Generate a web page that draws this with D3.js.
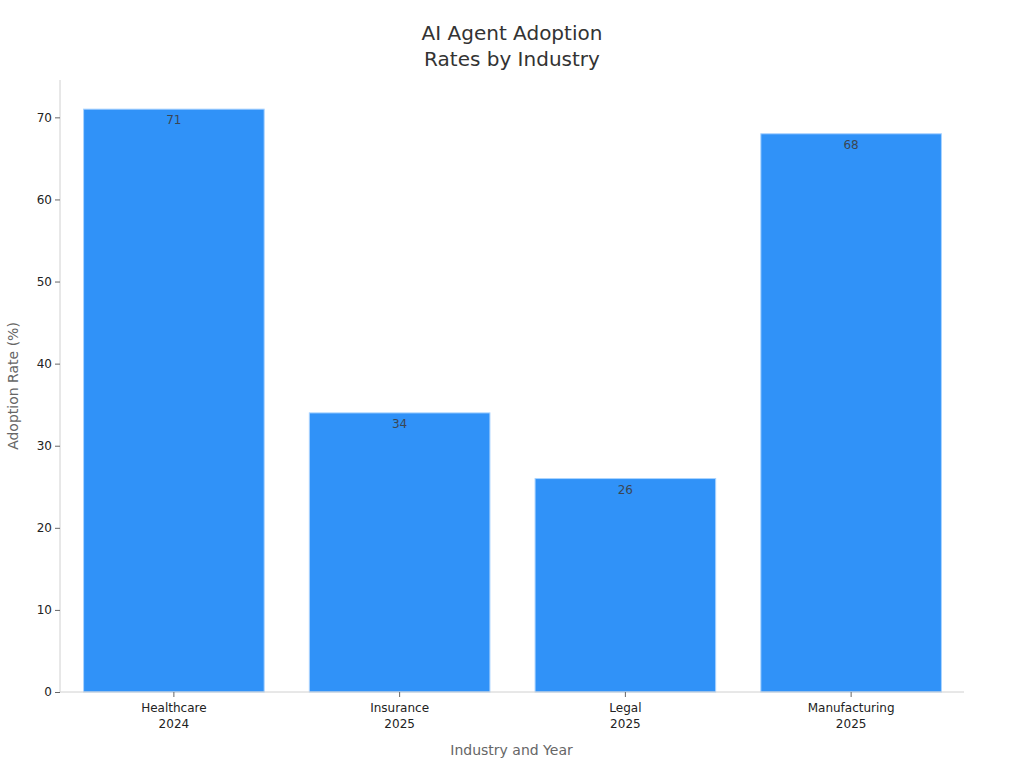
<!DOCTYPE html>
<html>
<head>
<meta charset="utf-8">
<script src="https://cdn.jsdelivr.net/npm/d3@7"></script>
<style>
  body { margin: 0; background: #fff; }
  text { font-family: "DejaVu Sans", sans-serif; }
</style>
</head>
<body>
<div id="plot"></div>
<script>
// data
const industries = ["Healthcare", "Insurance", "Legal", "Manufacturing"];
const years = ["2024", "2025", "2025", "2025"];
const rates = [71, 34, 26, 68];
const yTicks = [0, 10, 20, 30, 40, 50, 60, 70];

const rows = industries.map((name, i) => ({ name: name, year: years[i], rate: rates[i] }));

let width = 1024, height = 768;
let margin = { top: 80, bottom: 76, left: 60, right: 61 };

let svg = d3.select('#plot')
  .append('svg')
    .attr('width', width)
    .attr('height', height)
    .style('background', '#FFFFFF');

let xScale = d3.scaleBand()
  .domain(rows.map(d => d.name))
  .range([margin.left + 1, width - margin.right + 1])
  .paddingInner(0.2)
  .paddingOuter(0.1);

let yScale = d3.scaleLinear()
  .domain([0, d3.max(rates) * 1.05])
  .range([height - margin.bottom, margin.top]);

// bars
svg.selectAll('rect.bar')
    .data(rows)
  .enter()
  .append('rect')
    .attr('class', 'bar')
    .attr('x', d => xScale(d.name))
    .attr('y', d => yScale(d.rate))
    .attr('width', xScale.bandwidth())
    .attr('height', d => yScale(0) - yScale(d.rate))
    .attr('fill', '#3092f8')
    .attr('stroke', '#a9d3ff')
    .attr('stroke-width', 1);

// value labels just inside the bar top
svg.selectAll('text.val')
    .data(rows)
  .enter()
  .append('text')
    .attr('class', 'val')
    .attr('x', d => xScale(d.name) + xScale.bandwidth() / 2)
    .attr('y', d => yScale(d.rate) + 15)
    .attr('text-anchor', 'middle')
    .attr('font-size', '12px')
    .attr('fill', '#3b4654')
    .text(d => d.rate);

// y axis
let yAxis = svg.append('g')
  .attr('transform', `translate(${margin.left},0)`)
  .call(d3.axisLeft(yScale).tickValues(yTicks).tickSize(5).tickPadding(3));
yAxis.select('.domain').attr('stroke', '#d0d0d0').attr('d', `M0,${yScale(0)}V${margin.top}`);
yAxis.selectAll('.tick line').attr('stroke', '#666');
yAxis.selectAll('.tick text').attr('font-size', '12px').attr('fill', '#222')
  .style('font-family', '"DejaVu Sans", sans-serif');

// x axis
let xAxis = svg.append('g')
  .attr('transform', `translate(0,${yScale(0)})`)
  .call(d3.axisBottom(xScale).tickSize(5).tickPadding(4));
xAxis.select('.domain').attr('stroke', '#d0d0d0').attr('d', `M${margin.left},0H${width - margin.right + 1}`);
xAxis.selectAll('.tick line').attr('stroke', '#666');
xAxis.selectAll('.tick text').remove();
xAxis.selectAll('.tick').each(function(d, i) {
  let t = d3.select(this).append('text')
    .attr('fill', '#222')
    .attr('font-size', '12px')
    .attr('text-anchor', 'middle')
    .style('font-family', '"DejaVu Sans", sans-serif')
    .attr('y', 20);
  t.append('tspan').attr('x', 0).text(d);
  t.append('tspan').attr('x', 0).attr('dy', '1.3em').text(rows[i].year);
});

// axis titles
svg.append('text')
  .attr('x', (margin.left + width - margin.right) / 2)
  .attr('y', 755)
  .attr('text-anchor', 'middle')
  .attr('font-size', '14px')
  .attr('fill', '#666')
  .text('Industry and Year');

svg.append('text')
  .attr('transform', `translate(18,${(margin.top + yScale(0)) / 2}) rotate(-90)`)
  .attr('text-anchor', 'middle')
  .attr('font-size', '14px')
  .attr('fill', '#666')
  .text('Adoption Rate (%)');

// title
let title = svg.append('text')
  .attr('x', width / 2)
  .attr('text-anchor', 'middle')
  .attr('font-size', '20px')
  .attr('fill', '#333');
title.append('tspan').attr('x', width / 2).attr('y', 40).text('AI Agent Adoption');
title.append('tspan').attr('x', width / 2).attr('y', 66).text('Rates by Industry');
</script>
</body>
</html>
